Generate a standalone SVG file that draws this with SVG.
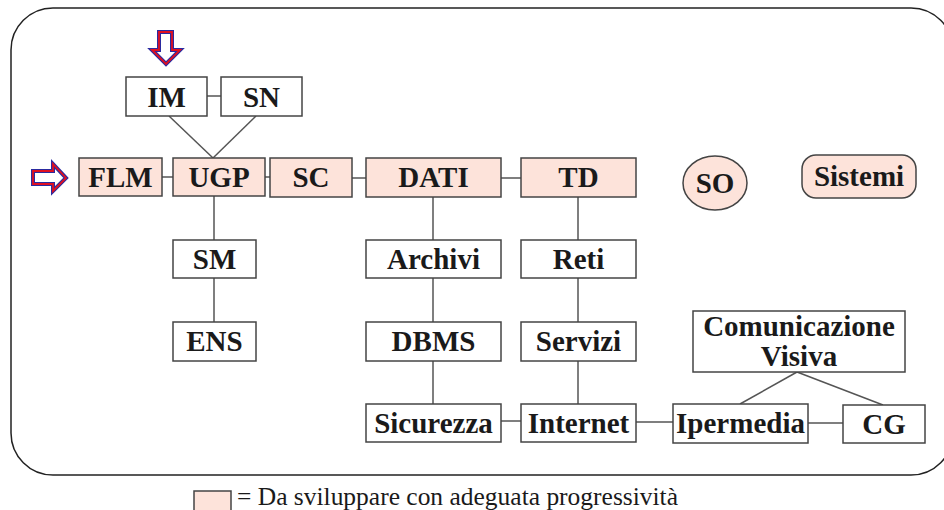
<svg xmlns="http://www.w3.org/2000/svg" width="944" height="510" viewBox="0 0 944 510">
<style>
.frame{fill:none;stroke:#222;stroke-width:1.5}
.box{fill:#fff;stroke:#444;stroke-width:1.5}
.hi{fill:#fde3da;stroke:#444;stroke-width:1.5}
.lbl{font-family:"Liberation Serif","Times New Roman",serif;font-weight:bold;font-size:29px;fill:#1a1a1a;text-anchor:middle}
.con line{stroke:#555;stroke-width:1.5}
.arrO{fill:#fff;stroke:#2a2aa0;stroke-width:4;stroke-linejoin:miter}
.arrI{fill:none;stroke:#e01020;stroke-width:1.8;stroke-linejoin:miter}
.leg{font-family:"Liberation Serif","Times New Roman",serif;font-size:25px;fill:#1a1a1a}
</style>
<rect class="frame" x="11" y="8" width="942" height="467" rx="42" ry="42"/>
<g id="arrow-down">
<polygon class="arrO" points="159,32 172,32 172,50 180,50 166,64 152,50 159,50"/>
<polygon class="arrI" points="159,32 172,32 172,50 180,50 166,64 152,50 159,50"/>
</g>
<g id="arrow-right">
<polygon class="arrO" points="33,171 53,171 53,164 66,178 53,191 53,184 33,184"/>
<polygon class="arrI" points="33,171 53,171 53,164 66,178 53,191 53,184 33,184"/>
</g>
<g class="con" id="connectors">
<line x1="207" y1="96" x2="221" y2="96"/>
<line x1="169" y1="116" x2="213" y2="158"/>
<line x1="256" y1="116" x2="213" y2="158"/>
<line x1="162" y1="177" x2="173" y2="177"/>
<line x1="265" y1="177" x2="270" y2="177"/>
<line x1="352" y1="178" x2="366" y2="178"/>
<line x1="501" y1="178" x2="521" y2="178"/>
<line x1="214" y1="196" x2="214" y2="240"/>
<line x1="214" y1="278" x2="214" y2="322"/>
<line x1="433" y1="197" x2="433" y2="240"/>
<line x1="433" y1="278" x2="433" y2="322"/>
<line x1="433" y1="361" x2="433" y2="404"/>
<line x1="578" y1="197" x2="578" y2="240"/>
<line x1="578" y1="278" x2="578" y2="322"/>
<line x1="578" y1="361" x2="578" y2="404"/>
<line x1="501" y1="421" x2="521" y2="421"/>
<line x1="636" y1="422" x2="673" y2="422"/>
<line x1="808" y1="423" x2="843" y2="423"/>
<line x1="797" y1="372" x2="740" y2="404"/>
<line x1="797" y1="372" x2="883" y2="405"/>
</g>
<g id="IM"><rect class="box" x="126" y="77" width="81" height="39"/><text class="lbl" x="166.5" y="107">IM</text></g>
<g id="SN"><rect class="box" x="221" y="77" width="81" height="39"/><text class="lbl" x="261.5" y="107">SN</text></g>
<g id="FLM"><rect class="hi" x="79" y="158" width="83" height="38"/><text class="lbl" x="120.5" y="187">FLM</text></g>
<g id="UGP"><rect class="hi" x="173" y="158" width="92" height="38"/><text class="lbl" x="219" y="187">UGP</text></g>
<g id="SC"><rect class="hi" x="270" y="158" width="82" height="39"/><text class="lbl" x="311" y="187">SC</text></g>
<g id="DATI"><rect class="hi" x="366" y="158" width="135" height="39"/><text class="lbl" x="433.5" y="187">DATI</text></g>
<g id="TD"><rect class="hi" x="521" y="158" width="115" height="39"/><text class="lbl" x="578.5" y="187">TD</text></g>
<g id="SO"><ellipse class="hi" cx="715" cy="183" rx="32" ry="27"/><text class="lbl" x="715" y="193">SO</text></g>
<g id="Sistemi"><rect class="hi" x="802" y="155" width="114" height="43" rx="14" ry="14"/><text class="lbl" x="859" y="186">Sistemi</text></g>
<g id="SM"><rect class="box" x="173" y="240" width="83" height="38"/><text class="lbl" x="214.5" y="269">SM</text></g>
<g id="ENS"><rect class="box" x="173" y="322" width="83" height="39"/><text class="lbl" x="214.5" y="351">ENS</text></g>
<g id="Archivi"><rect class="box" x="366" y="240" width="135" height="38"/><text class="lbl" x="433.5" y="269">Archivi</text></g>
<g id="Reti"><rect class="box" x="521" y="240" width="115" height="38"/><text class="lbl" x="578.5" y="269">Reti</text></g>
<g id="DBMS"><rect class="box" x="366" y="322" width="135" height="39"/><text class="lbl" x="433.5" y="351">DBMS</text></g>
<g id="Servizi"><rect class="box" x="521" y="322" width="115" height="39"/><text class="lbl" x="578.5" y="351">Servizi</text></g>
<g id="Sicurezza"><rect class="box" x="366" y="404" width="135" height="38"/><text class="lbl" x="433.5" y="433">Sicurezza</text></g>
<g id="Internet"><rect class="box" x="521" y="404" width="115" height="38"/><text class="lbl" x="578.5" y="433">Internet</text></g>
<g id="ComunicazioneVisiva"><rect class="box" x="693" y="311" width="212" height="61"/><text class="lbl" x="799" y="336">Comunicazione</text><text class="lbl" x="799" y="366">Visiva</text></g>
<g id="Ipermedia"><rect class="box" x="673" y="404" width="135" height="39"/><text class="lbl" x="740.5" y="433">Ipermedia</text></g>
<g id="CG"><rect class="box" x="843" y="405" width="82" height="38"/><text class="lbl" x="884" y="434">CG</text></g>
<g id="legend">
<rect class="hi" x="194" y="491" width="37" height="20"/>
<text class="leg" x="237" y="505" textLength="441" lengthAdjust="spacingAndGlyphs">= Da sviluppare con adeguata progressività</text>
</g>
</svg>
